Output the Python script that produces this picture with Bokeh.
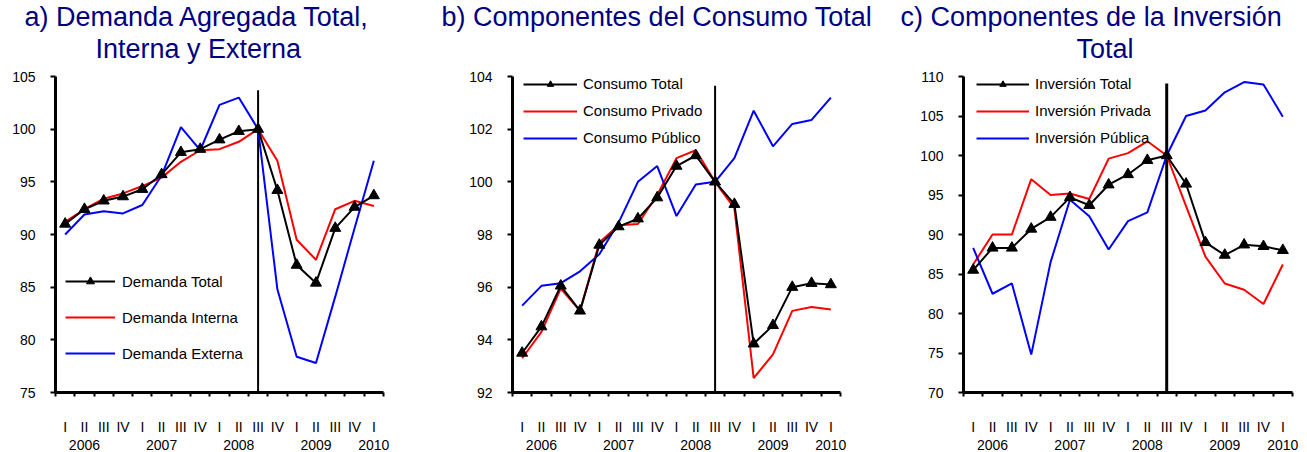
from bokeh.plotting import figure
from bokeh.layouts import row
from bokeh.models import FixedTicker, Legend, LegendItem, Title, Range1d, LinearAxis
from bokeh.embed import file_html
from bokeh.resources import INLINE

# ---------------- data ----------------
quarters = ["I", "II", "III", "IV"] * 4 + ["I"]
years = ["2006", "2007", "2008", "2009", "2010"]
base_idx = 10  # 2008 III = 100

dem_total = [91.0, 92.4, 93.2, 93.6, 94.3, 95.7, 97.8, 98.1, 99.0, 99.8, 100.0, 94.2, 87.1, 85.4, 90.6, 92.6, 93.7]
dem_interna = [91.2, 92.4, 93.4, 93.9, 94.6, 95.4, 96.9, 98.0, 98.1, 98.8, 100.0, 97.0, 89.5, 87.6, 92.4, 93.2, 92.7]
dem_externa = [90.0, 91.9, 92.2, 92.0, 92.8, 95.6, 100.2, 98.0, 102.3, 103.0, 100.0, 84.8, 78.4, 77.8, 84.1, 90.6, 97.0]

con_total = [93.5, 94.5, 96.05, 95.1, 97.6, 98.3, 98.6, 99.4, 100.6, 101.0, 100.0, 99.15, 93.85, 94.55, 96.0, 96.15, 96.1]
con_privado = [93.3, 94.3, 95.95, 95.1, 97.7, 98.35, 98.4, 99.5, 100.9, 101.2, 100.0, 99.0, 92.55, 93.45, 95.1, 95.25, 95.15]
con_publico = [95.3, 96.05, 96.15, 96.6, 97.25, 98.45, 100.0, 100.6, 98.7, 99.9, 100.0, 100.9, 102.7, 101.35, 102.2, 102.35, 103.2]

inv_total = [85.5, 88.3, 88.3, 90.7, 92.2, 94.7, 93.7, 96.3, 97.6, 99.4, 100.0, 96.4, 89.0, 87.4, 88.7, 88.5, 88.0]
inv_privada = [86.2, 90.0, 90.0, 97.0, 95.0, 95.2, 94.5, 99.6, 100.3, 101.8, 100.0, 93.6, 87.2, 83.8, 83.0, 81.2, 86.2]
inv_publica = [88.3, 82.5, 83.8, 74.8, 86.5, 94.4, 92.3, 88.1, 91.7, 92.8, 100.0, 105.0, 105.7, 108.0, 109.3, 109.0, 104.9]

titles_a = ["a) Demanda Agregada Total,", "Interna y Externa"]
titles_b = ["b) Componentes del Consumo Total", " "]
titles_c = ["c) Componentes de la Inversión", "Total"]
labels_a = ["Demanda Total", "Demanda Interna", "Demanda Externa"]
labels_b = ["Consumo Total", "Consumo Privado", "Consumo Público"]
labels_c = ["Inversión Total", "Inversión Privada", "Inversión Pública"]

y_ranges = [(75, 105, 5), (92, 104, 2), (70, 110, 5)]
vline_tops = [103.7, 103.65, 109.1]

FONT = "Liberation Sans"
n = len(quarters)
x = list(range(n))

quarter_text = {i: q for i, q in enumerate(quarters)}
year_pos = [min(4 * k + 1, n - 1) for k in range(len(years))]
year_text = {pos: yr for pos, yr in zip(year_pos, years)}


def make_panel(title_lines, title_offsets, title_standoffs, series, labels, yr, vtop,
               width, bl, br, leg_loc, glyph_w, leg_h, leg_spacing, leg_standoff, axis_w, vline_w):
    y0, y1, step = yr
    p = figure(width=width, height=452, output_backend="svg", toolbar_location=None,
               x_range=Range1d(-0.5, n - 0.5), y_range=Range1d(y0, y1),
               min_border_left=bl, min_border_right=br, min_border_top=76, min_border_bottom=60)
    p.outline_line_color = None
    p.grid.visible = False

    # titles: add closest-to-frame line first
    for txt, off, so in reversed(list(zip(title_lines, title_offsets, title_standoffs))):
        t = Title(text=txt, align="left", offset=off, standoff=so,
                  text_font=FONT, text_font_size="27px", text_font_style="normal",
                  text_color="#000080")
        p.add_layout(t, "above")

    ya = p.yaxis[0]
    ya.ticker = FixedTicker(ticks=list(range(y0, y1 + 1, step)))
    ya.axis_line_width = axis_w
    ya.axis_line_color = "black"
    ya.major_tick_line_width = 2
    ya.major_tick_out = 5
    ya.major_tick_in = 0
    ya.minor_tick_line_color = None
    ya.major_label_text_font = FONT
    ya.major_label_text_font_size = "14px"
    ya.major_label_text_color = "black"
    ya.major_label_standoff = 15

    xa = p.xaxis[0]
    xa.ticker = FixedTicker(ticks=x, minor_ticks=[i - 0.5 for i in range(n + 1)])
    xa.major_label_overrides = quarter_text
    xa.axis_line_width = axis_w
    xa.axis_line_color = "black"
    xa.major_tick_line_color = None
    xa.major_tick_out = 0
    xa.major_tick_in = 0
    xa.minor_tick_line_width = 2
    xa.minor_tick_line_color = "black"
    xa.minor_tick_out = 4
    xa.minor_tick_in = 0
    xa.major_label_text_font = FONT
    xa.major_label_text_font_size = "14px"
    xa.major_label_text_color = "black"
    xa.major_label_standoff = 22

    ya2 = LinearAxis(ticker=FixedTicker(ticks=year_pos), major_label_overrides=year_text,
                     axis_line_color=None, major_tick_line_color=None, minor_tick_line_color=None,
                     major_tick_out=0, major_tick_in=0, minor_tick_out=0, minor_tick_in=0,
                     major_label_standoff=2, major_label_text_font=FONT,
                     major_label_text_font_size="14px", major_label_text_color="black")
    p.add_layout(ya2, "below")

    p.segment(x0=[base_idx], y0=[y0], x1=[base_idx], y1=[vtop], line_color="black", line_width=vline_w)

    tot, red, blue = series
    r_red = p.line(x, red, line_color="#FF0000", line_width=2)
    r_blue = p.line(x, blue, line_color="#0000FF", line_width=2)
    r_tot = p.line(x, tot, line_color="black", line_width=2)
    r_tri = p.scatter(x, tot, marker="triangle", size=11, fill_color="black", line_color="black")

    legend = Legend(items=[LegendItem(label=labels[0], renderers=[r_tot, r_tri]),
                           LegendItem(label=labels[1], renderers=[r_red]),
                           LegendItem(label=labels[2], renderers=[r_blue])],
                    location=leg_loc, orientation="vertical",
                    label_text_font=FONT, label_text_font_size="15px", label_text_color="black",
                    glyph_width=glyph_w, glyph_height=leg_h, label_height=leg_h, spacing=leg_spacing,
                    label_standoff=leg_standoff, padding=0, margin=0,
                    border_line_color=None, background_fill_alpha=0)
    p.add_layout(legend)
    return p


pa = make_panel(titles_a, [-31, 40], [-26, 26], (dem_total, dem_interna, dem_externa), labels_a,
                y_ranges[0], vline_tops[0], 440, 55, 57, (10, 29), 50, 20, 16, 7, 3, 2)
pb = make_panel(titles_b, [-71, 0], [-26, 26], (con_total, con_privado, con_publico), labels_b,
                y_ranges[1], vline_tops[1], 440, 72, 40, (11, 246), 54, 16, 10, 6, 3, 2)
pc = make_panel(titles_c, [-63, 113], [-26, 26], (inv_total, inv_privada, inv_publica), labels_c,
                y_ranges[2], vline_tops[2], 427, 83, 15, (13, 246), 53, 16, 10, 6, 3, 3)

layout = row(pa, pb, pc, spacing=0)
open("out.html", "w").write(file_html(layout, INLINE))
